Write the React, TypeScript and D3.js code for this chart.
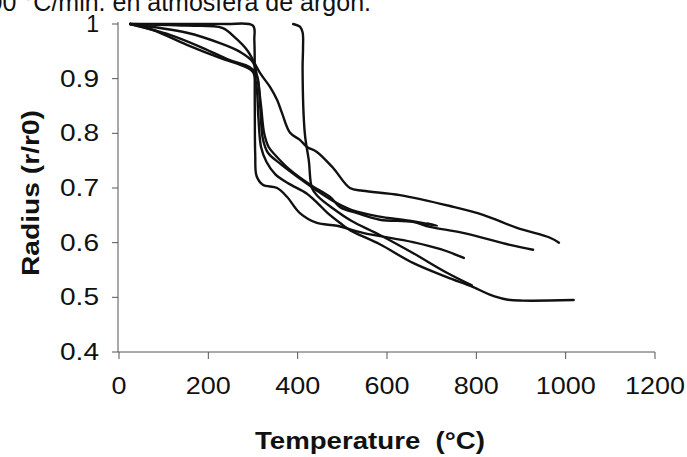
import React, { useRef, useEffect } from "react";
import * as d3 from "d3";

// temperature (°C), radius r/r0
const curveA = [
  [25, 1.0], [150, 1.0], [240, 1.0], [300, 0.997], [303, 0.97], [304, 0.85], [305, 0.76],
  [308, 0.722], [322, 0.706], [354, 0.7], [376, 0.684], [405, 0.654], [443, 0.636],
  [488, 0.631], [546, 0.618], [658, 0.601], [720, 0.588], [772, 0.572],
];
const curveB = [
  [25, 1.0], [150, 0.997], [231, 0.993], [260, 0.975], [287, 0.952], [316, 0.91],
  [338, 0.885], [354, 0.861], [365, 0.837], [383, 0.801], [405, 0.788], [421, 0.775],
  [443, 0.766], [479, 0.737], [517, 0.7], [546, 0.695], [629, 0.687], [741, 0.667],
  [815, 0.651], [891, 0.627], [965, 0.609], [985, 0.6],
];
const curveC = [
  [390, 1.0], [405, 0.995], [411, 0.985], [412, 0.955], [411, 0.92], [416, 0.8],
  [425, 0.75], [432, 0.7], [445, 0.685], [480, 0.662], [520, 0.64], [584, 0.614],
  [658, 0.581], [734, 0.545], [790, 0.522],
];
const curveD = [
  [25, 1.0], [76, 0.989], [152, 0.962], [226, 0.938], [287, 0.92], [300, 0.912],
  [308, 0.885], [312, 0.83], [318, 0.775], [330, 0.748], [350, 0.725], [380, 0.708],
  [420, 0.69], [445, 0.672], [466, 0.655], [495, 0.636], [517, 0.623], [584, 0.597],
  [658, 0.563], [734, 0.537], [792, 0.519], [830, 0.505], [868, 0.496], [904, 0.494],
  [1018, 0.495],
];
const curveE = [
  [25, 1.0], [152, 0.984], [226, 0.965], [271, 0.949], [300, 0.93], [310, 0.9],
  [318, 0.85], [325, 0.8], [335, 0.775], [350, 0.76], [383, 0.733], [428, 0.706],
  [472, 0.684], [495, 0.665], [533, 0.654], [584, 0.642], [658, 0.638], [696, 0.629],
  [770, 0.618], [875, 0.596], [927, 0.587],
];
const curveH = [
  [25, 1.0], [114, 0.98], [188, 0.956], [248, 0.934], [293, 0.921], [309, 0.905],
  [316, 0.85], [322, 0.79], [333, 0.765], [360, 0.745], [400, 0.72], [440, 0.697],
  [480, 0.676], [520, 0.66], [580, 0.648], [650, 0.64], [712, 0.631], [690, 0.635],
];
const curves = [curveA, curveB, curveC, curveD, curveE, curveH];

const xTicks = [0, 200, 400, 600, 800, 1000, 1200];
const yTicks = [0.4, 0.5, 0.6, 0.7, 0.8, 0.9, 1];

const App = () => {
  const ref = useRef(null);

  useEffect(() => {
    const svg = d3.select(ref.current);
    svg.selectAll("*").remove();
    const font = "'Liberation Sans', Arial, sans-serif";
    const ink = "#111";

    const x = d3.scaleLinear().domain([0, 1200]).range([119, 655]);
    const y = d3.scaleLinear().domain([0.4, 1]).range([352, 24]);

    // caption cut off at the top of the scan
    svg
      .append("text")
      .attr("x", 371)
      .attr("y", 11)
      .attr("text-anchor", "end")
      .attr("font-family", font)
      .attr("font-size", 25)
      .attr("fill", ink)
      .text("100 °C/min. en atmosfera de argon.");

    // axes
    svg
      .append("line")
      .attr("x1", 118).attr("x2", 118)
      .attr("y1", y(1) - 2).attr("y2", y(0.4))
      .attr("stroke", "#555");
    svg
      .append("line")
      .attr("x1", 118).attr("x2", x(1200))
      .attr("y1", y(0.4)).attr("y2", y(0.4))
      .attr("stroke", "#555");

    svg
      .selectAll(".ytick")
      .data(yTicks)
      .join("line")
      .attr("x1", 112).attr("x2", 118)
      .attr("y1", (d) => y(d)).attr("y2", (d) => y(d))
      .attr("stroke", "#555");
    svg
      .selectAll(".ylab")
      .data(yTicks)
      .join("text")
      .attr("x", 99)
      .attr("y", (d) => y(d) + 8)
      .attr("text-anchor", "end")
      .attr("font-family", font)
      .attr("font-size", 23)
      .attr("fill", ink)
      .each(function (d) {
        const t = d3.select(this);
        if (d === 1) t.text("1");
        else t.text(d.toFixed(1)).attr("textLength", 39).attr("lengthAdjust", "spacingAndGlyphs");
      });

    svg
      .selectAll(".xtick")
      .data(xTicks)
      .join("line")
      .attr("x1", (d) => x(d)).attr("x2", (d) => x(d))
      .attr("y1", y(0.4)).attr("y2", y(0.4) + 7)
      .attr("stroke", "#555");
    svg
      .selectAll(".xlab")
      .data(xTicks)
      .join("text")
      .attr("x", (d) => x(d))
      .attr("y", 394)
      .attr("text-anchor", "middle")
      .attr("font-family", font)
      .attr("font-size", 23)
      .attr("fill", ink)
      .attr("textLength", (d) => String(d).length * 15)
      .attr("lengthAdjust", "spacingAndGlyphs")
      .text((d) => d);

    svg
      .append("text")
      .attr("x", 370)
      .attr("y", 449)
      .attr("text-anchor", "middle")
      .attr("font-family", font)
      .attr("font-weight", "bold")
      .attr("font-size", 23)
      .attr("fill", ink)
      .attr("textLength", 230)
      .attr("lengthAdjust", "spacingAndGlyphs")
      .attr("xml:space", "preserve")
      .text("Temperature  (°C)");

    svg
      .append("text")
      .attr("transform", "translate(39,193) rotate(-90)")
      .attr("text-anchor", "middle")
      .attr("font-family", font)
      .attr("font-weight", "bold")
      .attr("font-size", 23)
      .attr("fill", ink)
      .attr("textLength", 166)
      .attr("lengthAdjust", "spacingAndGlyphs")
      .text("Radius (r/r0)");

    const line = d3
      .line()
      .x((d) => x(d[0]))
      .y((d) => y(d[1]))
      .curve(d3.curveCatmullRom.alpha(0.5));

    svg
      .selectAll(".curve")
      .data(curves)
      .join("path")
      .attr("d", (d) => line(d))
      .attr("fill", "none")
      .attr("stroke", ink)
      .attr("stroke-width", 2.4)
      .attr("stroke-linejoin", "round")
      .attr("stroke-linecap", "round");
  });

  return (
    <svg
      ref={ref}
      width={687}
      height={457}
      style={{ position: "absolute", left: 0, top: 0, background: "#fff" }}
    ></svg>
  );
};

export default App;
